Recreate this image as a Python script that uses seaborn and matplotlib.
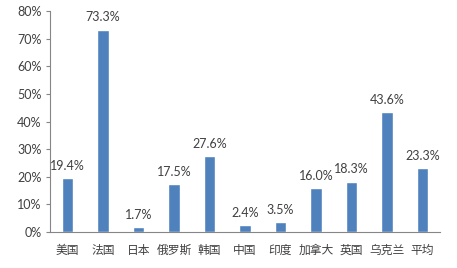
import matplotlib
matplotlib.use("Agg")
import matplotlib.pyplot as plt
import seaborn as sns
import pandas as pd
from matplotlib.ticker import PercentFormatter

categories = ["美国", "法国", "日本", "俄罗斯", "韩国", "中国", "印度", "加拿大", "英国", "乌克兰", "平均"]
values = [19.4, 73.3, 1.7, 17.5, 27.6, 2.4, 3.5, 16.0, 18.3, 43.6, 23.3]

sns.set_style("white")
plt.rcParams['font.family'] = ['Noto Sans CJK SC', 'DejaVu Sans']

df = pd.DataFrame({"cat": categories, "val": values})

fig = plt.figure(figsize=(4.57, 2.68), dpi=100)
ax = fig.add_axes([0.109, 0.134, 0.854, 0.825])
sns.barplot(data=df, x="cat", y="val", color="#4F81BD", saturation=1, width=0.32, ax=ax)

for p, v in zip(ax.patches, values):
    ax.text(p.get_x() + p.get_width() / 2, p.get_height() + 2.2, f"{v:.1f}%",
            ha="center", va="bottom", fontsize=9, color="#404040", family=['Lato', 'DejaVu Sans'])

ax.set_ylim(0, 80)
ax.set_yticks(range(0, 81, 10))
ax.yaxis.set_major_formatter(PercentFormatter(decimals=0))
for lab in ax.get_yticklabels():
    lab.set_family(['Lato', 'DejaVu Sans'])
ax.set_xlim(-0.5, len(categories) - 0.5)
ax.set_xlabel("")
ax.set_ylabel("")
for s in ["top", "right"]:
    ax.spines[s].set_visible(False)
for s in ["left", "bottom"]:
    ax.spines[s].set_color("#868686")
    ax.spines[s].set_linewidth(0.8)
ax.tick_params(axis="y", left=True, length=3, color="#868686", labelsize=9, labelcolor="#404040", pad=3)
ax.tick_params(axis="x", bottom=False, labelsize=8.5, labelcolor="#404040", pad=5)
for lab in ax.get_yticklabels():
    lab.set_family(['Lato', 'DejaVu Sans'])

fig.savefig("out.png", dpi=100)
